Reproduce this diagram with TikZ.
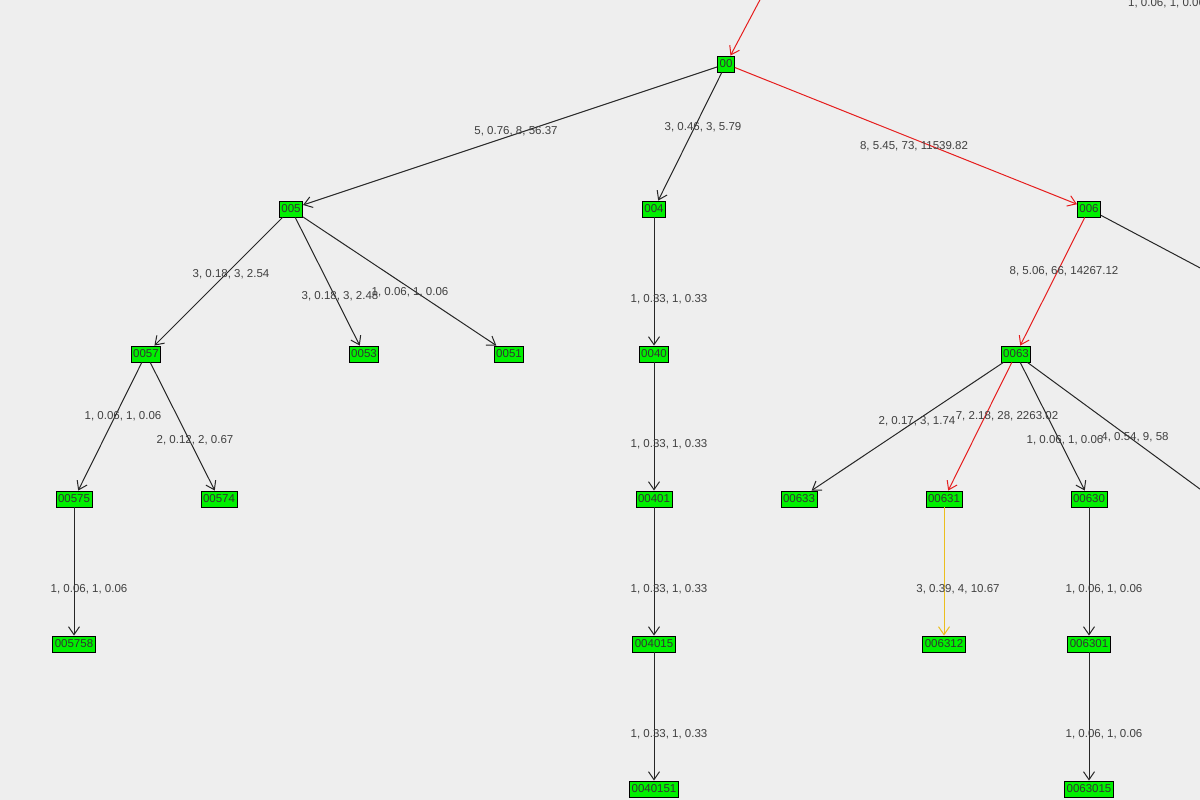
\documentclass[tikz,border=0pt]{standalone}
\usepackage{fontspec}
\setmainfont{Liberation Sans}
\usetikzlibrary{arrows.meta}
\definecolor{bgc}{RGB}{238,238,238}
\definecolor{boxc}{RGB}{0,240,0}
\definecolor{redc}{RGB}{230,30,30}
\definecolor{yelc}{RGB}{235,190,30}
\begin{document}
\begin{tikzpicture}[x=1pt, y=-1pt, font=\fontsize{11.5}{12}\selectfont,
  node/.style = {draw, fill=boxc, inner xsep=2pt, inner ysep=2pt, minimum height=16pt, line width=0.9pt, text=black!80},
  edge/.style = {-{Straight Barb[length=8pt,width=11pt]}, draw=black!85, line width=1pt},
  plain/.style = {draw=black!85, line width=1pt},
  hot/.style = {edge, draw=redc},
  warm/.style = {edge, draw=yelc},
  lbl/.style = {text=black!75, inner sep=0pt}]
	\fill[bgc] (0,0) rectangle (1200,800);
	\useasboundingbox (0,0) rectangle (1200,800);
	\clip (0,0) rectangle (1200,800);
		\node[node] (00) at (726,64) {00};
		\node[node] (005) at (291,209) {005};
		\node[node] (004) at (654,209) {004};
		\node[node] (006) at (1089,209) {006};
		\node[node] (0057) at (146,354) {0057};
		\node[node] (0053) at (364,354) {0053};
		\node[node] (0051) at (509,354) {0051};
		\node[node] (0040) at (654,354) {0040};
		\node[node] (0063) at (1016,354) {0063};
		\node[node] (00575) at (74,499) {00575};
		\node[node] (00574) at (219,499) {00574};
		\node[node] (00401) at (654,499) {00401};
		\node[node] (00633) at (799,499) {00633};
		\node[node] (00631) at (944,499) {00631};
		\node[node] (00630) at (1089,499) {00630};
		\node[node] (005758) at (74,644) {005758};
		\node[node] (004015) at (654,644) {004015};
		\node[node] (006312) at (944,644) {006312};
		\node[node] (006301) at (1089,644) {006301};
		\node[node] (0040151) at (654,789) {0040151};
		\node[node] (0063015) at (1089,789) {0063015};
		\coordinate (top) at (762,-4);
		\coordinate (r1) at (1204,270);
		\coordinate (r2) at (1204,492);
		\draw[hot] (top) to (00);
		\draw[edge] (00) to (005);
		\draw[edge] (00) to (004);
		\draw[hot] (00) to (006);
		\draw[plain] (006) to (r1);
		\draw[edge] (005) to (0057);
		\draw[edge] (005) to (0053);
		\draw[edge] (005) to (0051);
		\draw[edge] (004) to (0040);
		\draw[hot] (006) to (0063);
		\draw[edge] (0057) to (00575);
		\draw[edge] (0057) to (00574);
		\draw[edge] (0040) to (00401);
		\draw[edge] (0063) to (00633);
		\draw[hot] (0063) to (00631);
		\draw[edge] (0063) to (00630);
		\draw[plain] (0063) to (r2);
		\draw[edge] (00575) to (005758);
		\draw[edge] (00401) to (004015);
		\draw[warm] (00631) to (006312);
		\draw[edge] (00630) to (006301);
		\draw[edge] (004015) to (0040151);
		\draw[edge] (006301) to (0063015);
		% edge labels
		\node[lbl, anchor=west] at (1128,3) {1, 0.06, 1, 0.06};
		\node[lbl] at (516,131) {5, 0.76, 8, 56.37};
		\node[lbl] at (703,127) {3, 0.46, 3, 5.79};
		\node[lbl] at (914,146) {8, 5.45, 73, 11539.82};
		\node[lbl] at (231,274) {3, 0.18, 3, 2.54};
		\node[lbl] at (340,296) {3, 0.18, 3, 2.48};
		\node[lbl] at (410,292) {1, 0.06, 1, 0.06};
		\node[lbl] at (669,299) {1, 0.33, 1, 0.33};
		\node[lbl] at (1064,271) {8, 5.06, 66, 14267.12};
		\node[lbl] at (123,416) {1, 0.06, 1, 0.06};
		\node[lbl] at (195,440) {2, 0.12, 2, 0.67};
		\node[lbl] at (669,444) {1, 0.33, 1, 0.33};
		\node[lbl] at (917,421) {2, 0.17, 3, 1.74};
		\node[lbl] at (1007,416) {7, 2.18, 28, 2263.02};
		\node[lbl] at (1065,440) {1, 0.06, 1, 0.06};
		\node[lbl] at (1135,437) {4, 0.54, 9, 58};
		\node[lbl] at (89,589) {1, 0.06, 1, 0.06};
		\node[lbl] at (669,589) {1, 0.33, 1, 0.33};
		\node[lbl] at (958,589) {3, 0.39, 4, 10.67};
		\node[lbl] at (1104,589) {1, 0.06, 1, 0.06};
		\node[lbl] at (669,734) {1, 0.33, 1, 0.33};
		\node[lbl] at (1104,734) {1, 0.06, 1, 0.06};
	\end{tikzpicture}
\end{document}
